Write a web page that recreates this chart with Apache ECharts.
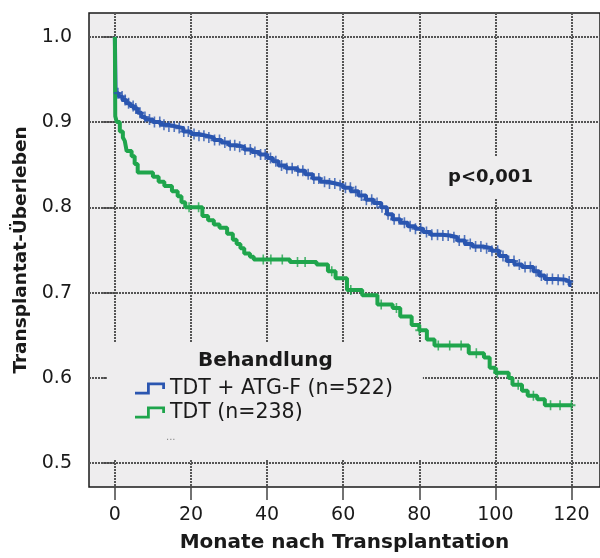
<!DOCTYPE html>
<html>
<head>
<meta charset="utf-8">
<script src="https://cdn.jsdelivr.net/npm/echarts@6/dist/echarts.min.js"></script>
<style>html,body{margin:0;padding:0;background:#fff}#c{width:600px;height:558px}</style>
</head>
<body>
<div id="c"></div>
<script>
// ---- data ----
var xTicks = [0, 20, 40, 60, 80, 100, 120];
var yTicks = [0.5, 0.6, 0.7, 0.8, 0.9, 1.0];
var seriesNames = ['TDT + ATG-F (n=522)', 'TDT (n=238)'];

// Kaplan-Meier steps: months / survival
var blueT = [0,0.2,1,2,3,4,5,6,7,8,10,12,14,16,18,20,22,24,26,28,30,32,34,36,38,40,41.5,43,45,48,50,52,54,56,58,60,62,64,66,68,70,71.5,73,75,77,79,81,83,86,88,90,92,94,97,99,101,103,105,107,110,111.5,113,116,118.5,119.5,120];
var blueS = [1.0,0.934,0.930,0.926,0.922,0.919,0.916,0.911,0.906,0.903,0.900,0.897,0.895,0.893,0.889,0.886,0.884,0.882,0.879,0.876,0.873,0.871,0.868,0.865,0.862,0.858,0.854,0.849,0.846,0.843,0.839,0.834,0.830,0.828,0.826,0.823,0.819,0.814,0.809,0.805,0.800,0.792,0.786,0.782,0.778,0.775,0.771,0.768,0.767,0.765,0.761,0.757,0.754,0.752,0.749,0.743,0.737,0.733,0.730,0.725,0.720,0.716,0.715,0.713,0.709,0.709];
var greenT = [0,0.1,0.5,1.3,2.1,2.6,3.1,4.4,5.2,6,10,11.5,13,15,16.5,17.5,18.5,23,24.5,26,27.5,29.5,31,32,33,34,35.5,36.5,46,53,56,58,61,65,69,73,75,78,80,82,84,93,97,98.5,100,103.5,104.5,107,108.5,111,113,120];
var greenS = [1.0,0.907,0.900,0.889,0.882,0.878,0.866,0.860,0.851,0.841,0.836,0.830,0.825,0.819,0.813,0.806,0.800,0.790,0.785,0.780,0.776,0.769,0.762,0.757,0.752,0.746,0.742,0.739,0.736,0.733,0.725,0.717,0.703,0.697,0.686,0.682,0.672,0.662,0.656,0.645,0.638,0.629,0.624,0.612,0.606,0.600,0.592,0.585,0.579,0.575,0.568,0.568];

// censoring times (months)
var blueCensor = [0.8,1.9,2.7,3.6,4.8,5.5,6.6,7.9,9.1,10.4,11.8,12.9,14.2,15.6,16.9,18.1,19.3,20.8,22.1,23.4,24.7,26.2,27.5,28.9,30.3,31.5,32.8,34.2,35.6,36.8,38.3,39.5,40.9,42.3,43.8,45.2,46.6,48.1,49.4,50.8,52.3,53.6,55.1,56.4,57.8,59.2,60.6,61.9,63.3,64.8,66.1,67.5,68.9,70.2,71.8,73.4,74.7,76.1,77.6,79.0,80.4,81.9,83.3,84.8,86.2,87.6,89.1,90.5,91.9,93.4,94.8,96.2,97.7,99.1,100.6,102.0,103.5,104.9,106.3,107.8,109.2,110.7,112.1,113.6,115.0,116.5,117.9,119.4];
var greenCensor = [19.5,22,39,41,44,48,50,57,62,70,74,80,85,88,91,95,100.5,106,110,114.5,117,120];

// ---- build ----
function pairs(t, s) { return t.map(function (v, i) { return [v, s[i]]; }); }
function valueAt(t, s, x) {
  var v = s[0];
  for (var i = 0; i < t.length; i++) { if (t[i] <= x) v = s[i]; else break; }
  return v;
}
function censorPts(ct, t, s) { return ct.map(function (x) { return [x, valueAt(t, s, x)]; }); }

var BLUE = '#2b56b0', GREEN = '#1fa54c', BG = '#eeedee';
var FONT = 'DejaVu Sans';
var plus = 'path://M3,0 H4.5 V3 H7.5 V4.5 H4.5 V7.5 H3 V4.5 H0 V3 H3 Z';
var stepIcon = 'path://M0,9.2 L12,9.2 L12,0 L30,0 L30,6.5 L27.2,6.5 L27.2,2.8 L14.8,2.8 L14.8,12 L0,12 Z';
var gridLine = {color: '#555', width: 2, type: [2, 1]};

var chart = echarts.init(document.getElementById('c'), null, {renderer: 'canvas'});
chart.setOption({
  animation: false,
  backgroundColor: '#fff',
  grid: {left: 89, top: 13, width: 516, height: 477, show: true, backgroundColor: BG, borderColor: '#1a1a1a', borderWidth: 1.5},
  title: [
    {text: 'Behandlung', left: 198, top: 351, padding: 0, textStyle: {fontFamily: FONT, fontSize: 20, fontWeight: 'bold', color: '#1a1a1a'}},
    {text: 'p<0,001', left: 442, top: 156, padding: [12, 6, 12, 6], backgroundColor: BG, textStyle: {fontFamily: FONT, fontSize: 18, fontWeight: 'bold', color: '#1a1a1a'}},
    {text: '...', left: 166, top: 432, padding: 0, textStyle: {fontFamily: FONT, fontSize: 10, color: '#888', fontWeight: 'normal'}}
  ],
  legend: {
    orient: 'vertical', left: 107, top: 342,
    padding: [36, 30, 36, 28], itemGap: 3, itemWidth: 30, itemHeight: 12,
    backgroundColor: BG,
    textStyle: {fontFamily: FONT, fontSize: 20.5, color: '#1a1a1a'},
    data: [{name: seriesNames[0], icon: stepIcon}, {name: seriesNames[1], icon: stepIcon}]
  },
  xAxis: {
    type: 'value', min: -6.8, max: 127.5,
    name: 'Monate nach Transplantation', nameLocation: 'middle', nameGap: 46,
    nameTextStyle: {fontFamily: FONT, fontSize: 20, fontWeight: 'bold', color: '#1a1a1a'},
    axisLine: {show: false},
    axisTick: {show: true, length: 13, customValues: xTicks, lineStyle: {color: '#444', width: 1.5}},
    axisLabel: {customValues: xTicks, margin: 19, fontFamily: FONT, fontSize: 19, color: '#1a1a1a'},
    splitLine: {show: true, lineStyle: gridLine}
  },
  yAxis: {
    type: 'value', min: 0.472, max: 1.028,
    name: 'Transplantat-Überleben', nameLocation: 'middle', nameGap: 58,
    nameTextStyle: {fontFamily: FONT, fontSize: 18.5, fontWeight: 'bold', color: '#1a1a1a'},
    axisLine: {show: false},
    axisTick: {show: true, length: 12, customValues: yTicks, lineStyle: {color: '#444', width: 1.5}},
    axisLabel: {customValues: yTicks, margin: 17, fontFamily: FONT, fontSize: 19, color: '#1a1a1a',
      formatter: function (v) { return v.toFixed(1); }},
    splitLine: {show: true, lineStyle: gridLine}
  },
  series: [
    {name: seriesNames[0], type: 'line', step: 'end', showSymbol: false, symbol: 'none', data: pairs(blueT, blueS),
      itemStyle: {color: BLUE}, lineStyle: {color: BLUE, width: 4}, z: 3},
    {name: seriesNames[1], type: 'line', step: 'end', showSymbol: false, symbol: 'none', data: pairs(greenT, greenS),
      itemStyle: {color: GREEN}, lineStyle: {color: GREEN, width: 4}, z: 3},
    {name: seriesNames[0] + ' zensiert', type: 'scatter', symbol: plus, symbolSize: [8, 11], data: censorPts(blueCensor, blueT, blueS),
      itemStyle: {color: BLUE}, z: 4, silent: true},
    {name: seriesNames[1] + ' zensiert', type: 'scatter', symbol: plus, symbolSize: [8, 10], data: censorPts(greenCensor, greenT, greenS),
      itemStyle: {color: GREEN}, z: 4, silent: true}
  ]
});
</script>
</body>
</html>
